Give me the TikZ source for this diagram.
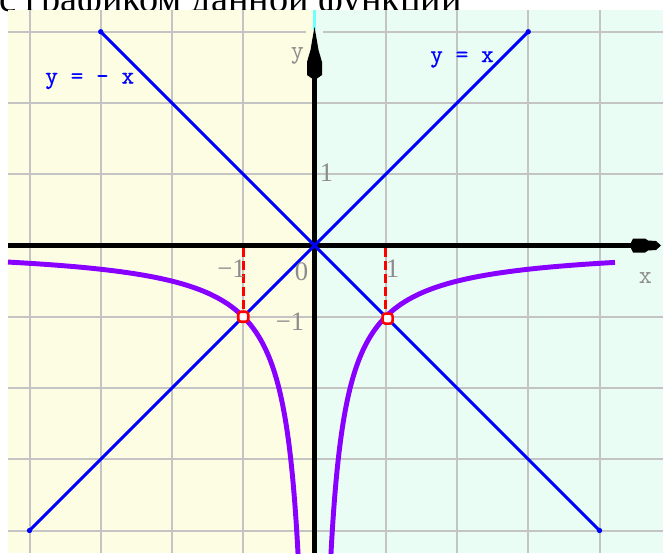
\documentclass[tikz,border=0pt]{standalone}
\usepackage{fontspec}
\setmainfont{Liberation Serif}
\newfontfamily\monofont{Latin Modern Mono}
\newfontfamily\monoboldfont[FakeBold=0.7]{Latin Modern Mono}
\definecolor{bgyellow}{HTML}{FDFDE4}
\definecolor{bgmint}{HTML}{E9FDF4}
\definecolor{gridgray}{HTML}{C4C4C4}
\definecolor{curvepurple}{HTML}{8800FF}
\definecolor{labelgray}{HTML}{8C8C8C}
\definecolor{topcyan}{HTML}{70FFFF}
\definecolor{lineblue}{HTML}{0000FF}
\definecolor{markred}{HTML}{FF0000}
\tikzset{
  gridline/.style={draw=gridgray, line width=1.5pt},
  axisline/.style={draw=black, line width=4.1pt},
  blueline/.style={draw=lineblue, line width=2.2pt},
  curveline/.style={draw=curvepurple, line width=3.7pt, line join=round},
  reddash/.style={draw=markred, line width=2.2pt, dash pattern=on 6.75pt off 3pt},
  marker/.style={draw=markred, fill=white, line width=1.9pt, rounded corners=2pt, minimum size=7.5pt, inner sep=0pt},
  enddot/.style={fill=lineblue, circle, inner sep=0pt, minimum size=4pt},
  numlabel/.style={font=\fontsize{20}{21}\selectfont, text=labelgray, inner sep=0pt, anchor=base},
  axlabel/.style={font=\monofont\fontsize{19}{20}\selectfont, text=labelgray, inner sep=0pt, anchor=base},
  eqlabel/.style={font=\monoboldfont\fontsize{18.5}{19}\selectfont, text=lineblue, inner sep=0pt, anchor=base west}
}
\begin{document}
\begin{tikzpicture}[x=0.75pt,y=-0.75pt]
\useasboundingbox (0,0) rectangle (663,553);
% title (partly hidden)
\node[anchor=base west, inner sep=0pt, font=\fontsize{28.7}{30}\selectfont] (title) at (-1,12) {с графиком данной функции};
% backgrounds
\fill[bgyellow] (8,10) rectangle (314.5,553);
\fill[bgmint] (314.5,10) rectangle (663,553);
% grid
\foreach \i in {-4,-3,-2,-1,1,2,3,4}
  \draw[gridline] ({314.5+\i*71.25},10) -- ({314.5+\i*71.25},553);
\foreach \j in {-4,-3,-2,-1,1,2,3}
  \draw[gridline] (8,{245.5-\j*71.25}) -- (663,{245.5-\j*71.25});
% gap in top grid line around arrow tip
\fill[bgyellow] (306,29) rectangle (314.5,35);
\fill[bgmint] (314.5,29) rectangle (323,35);
% cyan top of y-axis
\draw[topcyan, line width=2.6pt] (314.5,10) -- (314.5,30);
\begin{scope}[shift={(314.5,245.5)},x=53.4375pt,y=53.4375pt]
  \clip (-4.302,3.305) rectangle (4.891,-4.316);
  \draw[reddash] (-1,-0.03) -- (-1,-0.90);
  \draw[reddash] (1,-0.03) -- (1,-0.90);
\end{scope}
% axes
\draw[axisline] (8,245.5) -- (633,245.5);
\draw[axisline] (314.5,553) -- (314.5,76);
\fill[black] (314.5,27) -- (316.8,40) -- (318.5,50) -- (322,62) -- (322,75) -- (317,78.5) -- (312,78.5) -- (307,75) -- (307,62) -- (310.5,50) -- (312.2,40) -- cycle;
\fill[black] (661,245.5) -- (656,241) -- (648,240.5) -- (645,238.5) -- (633,238.5) -- (631,242.5) -- (631,248.5) -- (633,252.5) -- (645,252.5) -- (648,250.5) -- (656,250) -- cycle;
\begin{scope}[shift={(314.5,245.5)},x=53.4375pt,y=53.4375pt]
  \begin{scope}
    \clip (-4.302,3.305) rectangle (4.891,-4.316);
    \draw[curveline] plot[domain=-4.302:-0.22, samples=500] (\x,{-1/abs(\x)});
    \draw[curveline] plot[domain=0.22:4.22, samples=500] (\x,{-1/abs(\x)});
  \end{scope}
  \coordinate (a1) at (-3,3);
  \coordinate (a2) at (4,-4);
  \coordinate (b1) at (-4,-4);
  \coordinate (b2) at (3,3);
  \draw[blueline] (a1) -- (a2);
  \draw[blueline] (b1) -- (b2);
  \node[enddot] (da1) at (a1) {};
  \node[enddot] (da2) at (a2) {};
  \node[enddot] (db1) at (b1) {};
  \node[enddot] (db2) at (b2) {};
  \node[marker] (pL) at (-1,-1) {};
  \node[marker] (pR) at (1.025,-1.025) {};
\end{scope}
% labels
\node[eqlabel] (eqneg) at (45,83.5) {y = - x};
\node[eqlabel] (eqpos) at (430,62) {y = x};
\node[axlabel] (ylbl) at (297.5,58) {y};
\node[axlabel] (xlbl) at (645.5,283) {x};
\node[numlabel] (xm1) at (231.5,277) {−1};
\node[numlabel] (zero) at (301.5,280) {0};
\node[numlabel] (xp1) at (392.5,277) {1};
\node[numlabel] (ym1) at (290,330) {−1};
\node[numlabel] (yp1) at (326.5,181) {1};
\end{tikzpicture}
\end{document}
